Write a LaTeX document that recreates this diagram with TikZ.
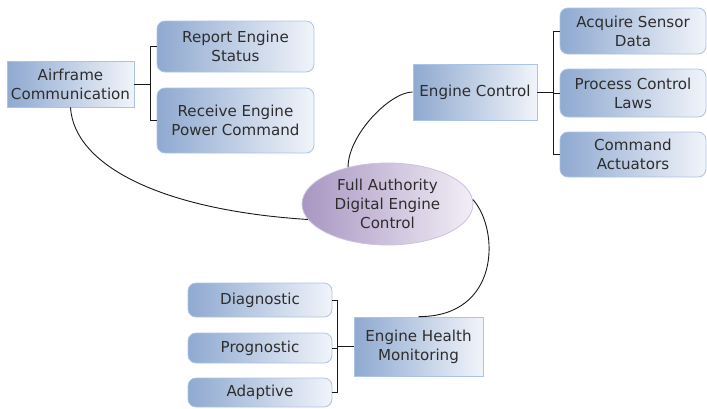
\documentclass[tikz,border=0pt]{standalone}
\usepackage{fontspec}
\setmainfont{DejaVu Sans}
\usepackage{xcolor}
\usetikzlibrary{shapes.geometric,positioning,calc}
\definecolor{boxleft}{RGB}{143,169,208}
\definecolor{boxright}{RGB}{241,244,250}
\definecolor{boxline}{RGB}{172,196,228}
\definecolor{hubleft}{RGB}{168,150,194}
\definecolor{hubright}{RGB}{242,238,246}
\definecolor{hubline}{RGB}{204,194,222}
\definecolor{inktext}{RGB}{45,45,45}

\begin{document}
\begin{tikzpicture}[x=1pt, y=-1pt,
    every node/.style={font=\fontsize{15.1}{18.8}\selectfont, text=inktext, align=center, inner sep=2pt},
    topic/.style={rectangle, draw=boxline, line width=0.8pt, left color=boxleft, right color=boxright},
    leaf/.style={topic, rounded corners=8pt},
    hub/.style={ellipse, draw=hubline, line width=0.8pt, left color=hubleft, right color=hubright,
        minimum width=171pt, minimum height=82pt, inner sep=0pt},
    link/.style={line width=0.9pt, draw=black!90}]

    \useasboundingbox (0,0) rectangle (707,408);

    % Centre
    \node[hub] (fadec) at (387.5,204) {Full Authority\\Digital Engine\\Control};

    % Airframe branch
    \node[topic, minimum width=127pt, minimum height=46pt] (air) at (70.5,84) {Airframe\\Communication};
    \node[leaf, minimum width=157pt, minimum height=51pt] (report) at (235.5,46.5) {Report Engine\\Status};
    \node[leaf, minimum width=157pt, minimum height=65pt] (receive) at (235.5,120.5) {Receive Engine\\Power Command};

    % Engine control branch
    \node[topic, minimum width=124pt, minimum height=56pt] (ctrl) at (475,92) {Engine Control};
    \node[leaf, minimum width=146pt, minimum height=46pt] (acquire) at (633,31) {Acquire Sensor\\Data};
    \node[leaf, minimum width=146pt, minimum height=48pt] (laws) at (633,93) {Process Control\\Laws};
    \node[leaf, minimum width=146pt, minimum height=45pt] (actuate) at (633,154.5) {Command\\Actuators};

    % Health monitoring branch
    \node[topic, minimum width=129pt, minimum height=59pt] (health) at (418.5,346.5) {Engine Health\\Monitoring};
    \node[leaf, minimum width=144pt, minimum height=34pt] (diag) at (260,300) {Diagnostic};
    \node[leaf, minimum width=144pt, minimum height=30pt] (prog) at (260,348) {Prognostic};
    \node[leaf, minimum width=144pt, minimum height=29pt] (adapt) at (260,392.5) {Adaptive};

    % Brackets
    \draw[link] (air.east) -- ++(16,0) |- (report.west);
    \draw[link] (air.east) -- ++(16,0) |- (receive.west);
    \draw[link] (ctrl.east) -- ++(16,0) |- (acquire.west);
    \draw[link] (ctrl.east) -- ++(16,0) |- (laws.west);
    \draw[link] (ctrl.east) -- ++(16,0) |- (actuate.west);
    \draw[link] (health.west) -- ++(-16,0) |- (diag.east);
    \draw[link] (health.west) -- ++(-16,0) |- (prog.east);
    \draw[link] (health.west) -- ++(-16,0) |- (adapt.east);

    % Curved links to the centre
    \draw[link] (air.south) .. controls (74,165) and (160,210) .. (fadec.191);
    \draw[link] (ctrl.west) .. controls (390,92) and (348,135) .. (fadec.137);
    \draw[link] (fadec.3) .. controls (500,230) and (500,317) .. (health.north);
\end{tikzpicture}
\end{document}
